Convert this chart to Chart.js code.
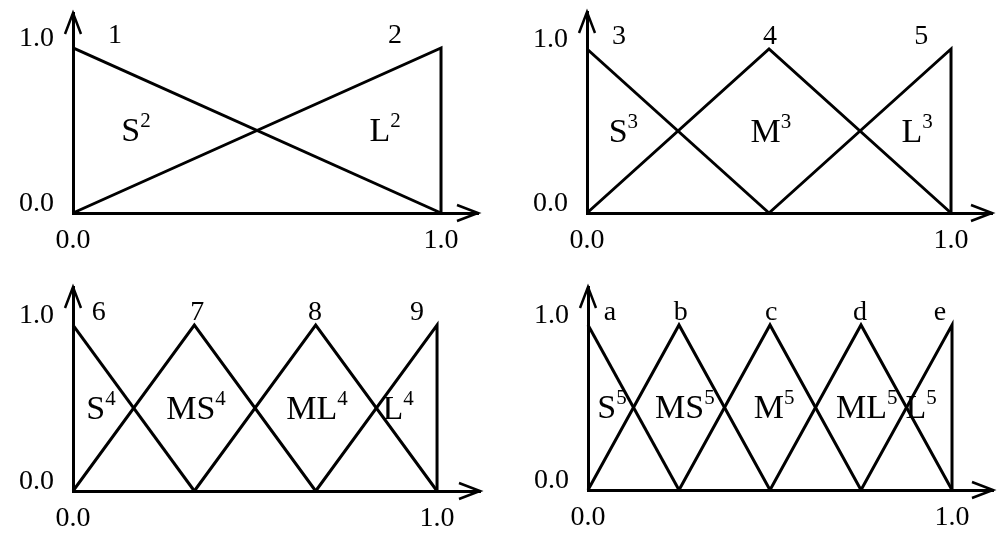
<!DOCTYPE html>
<html><head><meta charset="utf-8">
<script src="https://cdn.jsdelivr.net/npm/chart.js@4.4.1/dist/chart.umd.min.js"></script>
<style>
html,body{margin:0;padding:0;background:#fff;width:1000px;height:540px;overflow:hidden}
.p{position:absolute;width:500px;height:270px}
</style></head><body>
<div class="p" style="left:0;top:0"><canvas id="c2"></canvas></div>
<div class="p" style="left:500px;top:0"><canvas id="c3"></canvas></div>
<div class="p" style="left:0;top:270px"><canvas id="c4"></canvas></div>
<div class="p" style="left:500px;top:270px"><canvas id="c5"></canvas></div>
<script>
// ---- data ----
const tickValues = [0, 1];
const tickLabels = ['0.0', '1.0'];

const peaks2 = [0, 1];
const peaks3 = [0, 0.5, 1];
const peaks4 = [0, 1/3, 2/3, 1];
const peaks5 = [0, 0.25, 0.5, 0.75, 1];

const numbers2 = ['1', '2'];
const numbers3 = ['3', '4', '5'];
const numbers4 = ['6', '7', '8', '9'];
const numbers5 = ['a', 'b', 'c', 'd', 'e'];

const names2 = ['S', 'L'];
const names3 = ['S', 'M', 'L'];
const names4 = ['S', 'MS', 'ML', 'L'];
const names5 = ['S', 'MS', 'M', 'ML', 'L'];

// ---- layout (positions of annotations in axis units, pixel geometry) ----
const numberX2 = [0.114, 0.875];
const numberX3 = [0.088, 0.503, 0.918];
const numberX4 = [0.071, 0.341, 0.665, 0.945];
const numberX5 = [0.06, 0.255, 0.503, 0.747, 0.967];
const nameX2 = [0.171, 0.848];
const nameX3 = [0.10, 0.505, 0.907];
const nameX4 = [0.077, 0.338, 0.670, 0.893];
const nameX5 = [0.066, 0.266, 0.511, 0.766, 0.915];

const panels = [
  {id:'c2', peaks:peaks2, nums:numbers2, numX:numberX2, names:names2, nameX:nameX2, sup:'2',
   axisX:73, tipY:13, arrowX:478, y0:213, xmax:1.1005, ymax:1.212},
  {id:'c3', peaks:peaks3, nums:numbers3, numX:numberX3, names:names3, nameX:nameX3, sup:'3',
   axisX:87, tipY:12, arrowX:492, y0:213, xmax:1.1126, ymax:1.2256},
  {id:'c4', peaks:peaks4, nums:numbers4, numX:numberX4, names:names4, nameX:nameX4, sup:'4',
   axisX:73, tipY:17, arrowX:480, y0:221, xmax:1.118, ymax:1.229},
  {id:'c5', peaks:peaks5, nums:numbers5, numX:numberX5, names:names5, nameX:nameX5, sup:'5',
   axisX:88, tipY:17, arrowX:493, y0:220, xmax:1.1126, ymax:1.23}
];

const FONT = "'Liberation Serif','Times New Roman',serif";

function triangles(peaks) {
  return peaks.map((p, i) => {
    const pts = [];
    if (i > 0) pts.push({x: peaks[i-1], y: 0});
    pts.push({x: p, y: 1});
    if (i < peaks.length - 1) pts.push({x: peaks[i+1], y: 0});
    else pts.push({x: p, y: 0});
    return pts;
  });
}

const decorPlugin = {
  id: 'decor',
  afterDraw(chart) {
    const cfg = chart.options.plugins.decor;
    const {ctx, chartArea} = chart;
    const xs = chart.scales.x, ys = chart.scales.y;
    const left = chartArea.left, top = chartArea.top, right = chartArea.right;
    const yb = ys.getPixelForValue(0);
    ctx.save();
    ctx.strokeStyle = '#000';
    ctx.lineWidth = 2.5;
    ctx.lineJoin = 'miter';
    ctx.beginPath();
    ctx.moveTo(left - 8, top + 21); ctx.lineTo(left, top); ctx.lineTo(left + 8, top + 21);
    ctx.stroke();
    ctx.beginPath();
    ctx.moveTo(right - 21, yb - 8); ctx.lineTo(right, yb); ctx.lineTo(right - 21, yb + 8);
    ctx.stroke();
    // numbers
    ctx.fillStyle = '#000';
    ctx.font = '28px ' + FONT;
    ctx.textAlign = 'center';
    ctx.textBaseline = 'alphabetic';
    cfg.nums.forEach((t, i) => {
      ctx.fillText(t, xs.getPixelForValue(cfg.numX[i]), ys.getPixelForValue(1.03));
    });
    // set names with superscript
    const mainFont = '34px ' + FONT, supFont = '21px ' + FONT;
    ctx.textAlign = 'left';
    const base = ys.getPixelForValue(0.5) + 11;
    cfg.names.forEach((t, i) => {
      ctx.font = mainFont; const w1 = ctx.measureText(t).width;
      ctx.font = supFont; const w2 = ctx.measureText(cfg.sup).width;
      const x0 = xs.getPixelForValue(cfg.nameX[i]) - (w1 + w2) / 2;
      ctx.font = mainFont; ctx.fillText(t, x0, base);
      ctx.font = supFont; ctx.fillText(cfg.sup, x0 + w1, base - 14);
    });
    ctx.restore();
  }
};

panels.forEach(p => {
  const tris = triangles(p.peaks);
  new Chart(document.getElementById(p.id), {
    type: 'scatter',
    data: {
      datasets: tris.map((pts, i) => ({
        label: p.names[i] + p.sup,
        data: pts,
        showLine: true,
        borderColor: '#000',
        borderWidth: 3,
        pointRadius: 0,
        clip: false,
        tension: 0
      }))
    },
    options: {
      responsive: true,
      maintainAspectRatio: false,
      animation: false,
      events: [],
      layout: {padding: {top: p.tipY, right: 500 - p.arrowX, left: 0, bottom: 0}},
      plugins: {
        legend: {display: false},
        tooltip: {enabled: false},
        decor: {nums: p.nums, numX: p.numX, names: p.names, nameX: p.nameX, sup: p.sup}
      },
      scales: {
        x: {
          type: 'linear', min: 0, max: p.xmax,
          grid: {display: false, drawTicks: false, tickLength: 0},
          border: {display: true, color: '#000', width: 3},
          afterBuildTicks: s => { s.ticks = tickValues.map(v => ({value: v})); },
          afterFit: s => { s.height = 270 - p.y0; s.paddingLeft = 0; s.paddingRight = 0; },
          ticks: {
            color: '#000', font: {family: FONT, size: 28}, padding: 11,
            maxRotation: 0, autoSkip: false,
            callback: v => tickLabels[tickValues.indexOf(v)]
          }
        },
        y: {
          type: 'linear', min: 0, max: p.ymax,
          grid: {display: false, drawTicks: false, tickLength: 0},
          border: {display: true, color: '#000', width: 3},
          afterBuildTicks: s => { s.ticks = tickValues.map(v => ({value: v})); },
          afterFit: s => { s.width = p.axisX; s.paddingTop = 0; s.paddingBottom = 0; },
          ticks: {
            color: '#000', font: {family: FONT, size: 28}, padding: 19, labelOffset: -9,
            autoSkip: false,
            callback: v => tickLabels[tickValues.indexOf(v)]
          }
        }
      }
    },
    plugins: [decorPlugin]
  });
});
</script>
</body></html>
